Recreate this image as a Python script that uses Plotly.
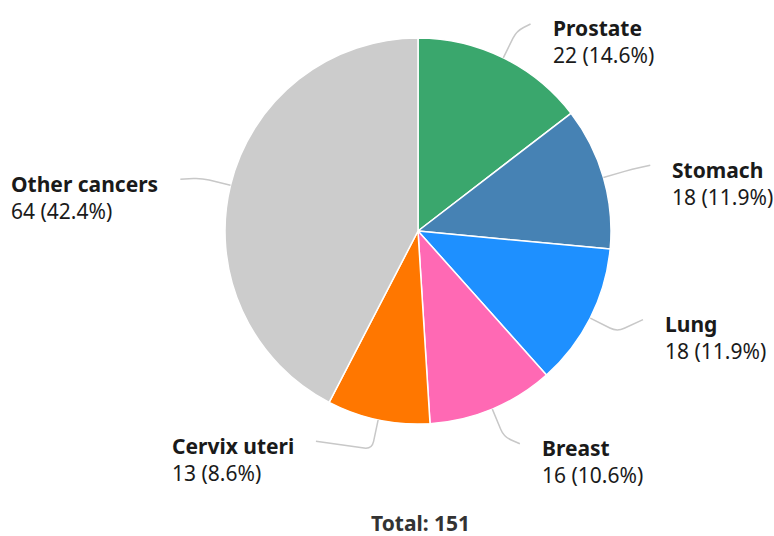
import math
import plotly.graph_objects as go

categories = ["Prostate", "Stomach", "Lung", "Breast", "Cervix uteri", "Other cancers"]
values = [22, 18, 18, 16, 13, 64]
colors = ["#3aa76d", "#4682b4", "#1e90ff", "#ff69b4", "#ff7700", "#cccccc"]

# label connector end offsets (px) from the natural label anchor, mimicking the original's label placement
label_shift = [(14, -7), (18, -4), (26, -12), (16, 7), (-56, -8), (-21, 1)]

W, H = 774, 536
CX, CY, R = 418, 231, 193
DIST = 30
FONT = "Noto Sans"
FS = 21
TXT = "#1a1a1a"

total = sum(values)

def px(x):
    return x / W

def py(y):
    return 1 - y / H

fig = go.Figure(go.Pie(
    labels=categories, values=values, sort=False, direction="clockwise", rotation=0,
    marker=dict(colors=colors, line=dict(color="white", width=1.5)),
    textinfo="none", hoverinfo="label+value+percent", showlegend=False,
    domain=dict(x=[px(CX - R), px(CX + R)], y=[py(CY + R), py(CY - R)]),
))

def toward(p, q, d):
    dx, dy = q[0] - p[0], q[1] - p[1]
    n = math.hypot(dx, dy) or 1
    d = min(d, n / 2)
    return (p[0] + dx / n * d, p[1] + dy / n * d)

shapes, annotations = [], []
cum = 0
for name, v, (sx, sy) in zip(categories, values, label_shift):
    a = math.radians((cum + v / 2) / total * 360)
    cum += v
    s, c = math.sin(a), math.cos(a)
    E = (CX + R * s, CY - R * c)
    A = (CX + (R + DIST) * s, CY - (R + DIST) * c)
    B = (A[0] + sx, A[1] + sy)
    side = 1 if s >= 0 else -1
    P1 = toward(A, E, 8)
    P2 = toward(A, B, 8)
    path = (f"M {px(E[0])} {py(E[1])} L {px(P1[0])} {py(P1[1])} "
            f"Q {px(A[0])} {py(A[1])} {px(P2[0])} {py(P2[1])} L {px(B[0])} {py(B[1])}")
    shapes.append(dict(type="path", path=path, xref="paper", yref="paper",
                       line=dict(color="#c8c8c8", width=1.5)))
    pct = v / total * 100
    annotations.append(dict(
        x=px(B[0] + side * 20), y=py(B[1] + 18), xref="paper", yref="paper",
        xanchor="left" if side > 0 else "right", yanchor="middle", align="left",
        showarrow=False,
        text=f"<b>{name}</b><br>{v} ({pct:.1f}%)",
        font=dict(family=FONT, size=FS, color=TXT),
    ))

annotations.append(dict(
    x=px(CX + 2), y=py(523), xref="paper", yref="paper", xanchor="center", yanchor="middle",
    showarrow=False, text=f"<b>Total: {total}</b>",
    font=dict(family=FONT, size=FS, color="#333333"),
))

fig.update_layout(
    width=W, height=H, margin=dict(l=0, r=0, t=0, b=0),
    paper_bgcolor="white", plot_bgcolor="white",
    shapes=shapes, annotations=annotations,
)
fig.write_html("out.html", config={"displayModeBar": False},
               post_script="document.body.style.margin='0';")
